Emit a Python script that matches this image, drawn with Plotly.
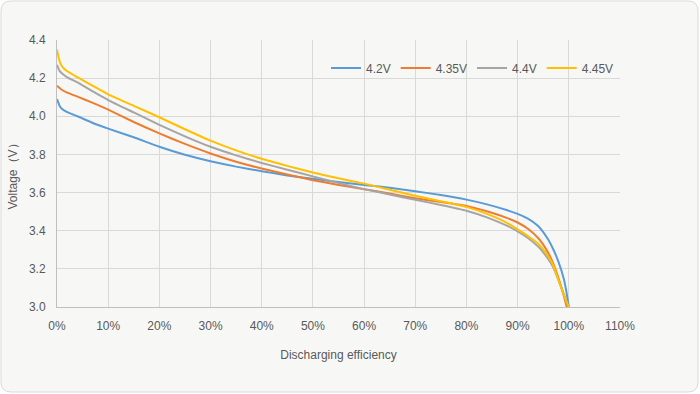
import plotly.graph_objects as go

# Discharging efficiency (%)
x_42 = [0, 0.5, 1, 2, 4, 7, 10, 15, 20, 25, 30, 35, 40, 45, 50, 55, 60, 65, 70, 75, 80, 84, 88, 90, 92, 94, 95, 96, 97, 98, 99, 99.5, 100]
v_42 = [4.09, 4.055, 4.038, 4.022, 4.00, 3.965, 3.935, 3.89, 3.84, 3.798, 3.764, 3.736, 3.712, 3.69, 3.672, 3.655, 3.64, 3.625, 3.607, 3.587, 3.563, 3.538, 3.507, 3.488, 3.463, 3.425, 3.393, 3.352, 3.30, 3.235, 3.15, 3.085, 3.0]

x_435 = [0, 0.5, 1, 2, 4, 7, 10, 15, 20, 25, 30, 35, 40, 45, 50, 55, 60, 65, 70, 75, 80, 84, 88, 90, 92, 94, 95, 96, 97, 98, 99, 99.6]
v_435 = [4.16, 4.148, 4.138, 4.124, 4.103, 4.07, 4.035, 3.97, 3.91, 3.855, 3.805, 3.762, 3.726, 3.695, 3.665, 3.64, 3.618, 3.595, 3.57, 3.55, 3.53, 3.502, 3.466, 3.443, 3.41, 3.362, 3.327, 3.283, 3.225, 3.15, 3.06, 3.0]

x_44 = [0, 0.5, 1, 2, 4, 7, 10, 15, 20, 25, 30, 35, 40, 45, 50, 55, 60, 65, 70, 75, 80, 84, 88, 90, 92, 94, 95, 96, 97, 98, 99, 99.9]
v_44 = [4.27, 4.238, 4.224, 4.204, 4.178, 4.13, 4.085, 4.02, 3.955, 3.895, 3.84, 3.795, 3.755, 3.72, 3.685, 3.65, 3.618, 3.59, 3.562, 3.535, 3.505, 3.47, 3.425, 3.397, 3.362, 3.317, 3.287, 3.25, 3.205, 3.14, 3.07, 3.0]

x_445 = [0, 0.3, 0.7, 1.3, 2, 4, 7, 10, 15, 20, 25, 30, 35, 40, 45, 50, 55, 60, 65, 70, 75, 80, 84, 88, 90, 92, 94, 95, 96, 97, 98, 99, 100]
v_445 = [4.35, 4.31, 4.275, 4.252, 4.236, 4.205, 4.16, 4.115, 4.055, 3.995, 3.932, 3.872, 3.821, 3.777, 3.74, 3.705, 3.675, 3.647, 3.615, 3.583, 3.555, 3.525, 3.488, 3.44, 3.407, 3.372, 3.332, 3.302, 3.265, 3.215, 3.14, 3.065, 3.0]

series_names = ["4.2V", "4.35V", "4.4V", "4.45V"]
colors = ["#5b9bd5", "#ed7d31", "#a5a5a5", "#ffc000"]

fig = go.Figure()
for name, xs, vs, c in zip(series_names, [x_42, x_435, x_44, x_445], [v_42, v_435, v_44, v_445], colors):
    fig.add_trace(go.Scatter(x=xs, y=vs, mode="lines", name=name,
                             line=dict(color=c, width=2, shape="spline", smoothing=0.4)))

W, H = 700, 394
L, R, T, B = 57, 80, 40, 87
pw, ph = W - L - R, H - T - B

def px(x):
    return (x - L) / pw

def py(y):
    return 1 - (y - T) / ph

# rounded frame path in paper coords
x0, y0, x1, y1, r = 1, 1, 698, 392, 10
path = (f"M {px(x0 + r)} {py(y0)} L {px(x1 - r)} {py(y0)} Q {px(x1)} {py(y0)} {px(x1)} {py(y0 + r)} "
        f"L {px(x1)} {py(y1 - r)} Q {px(x1)} {py(y1)} {px(x1 - r)} {py(y1)} "
        f"L {px(x0 + r)} {py(y1)} Q {px(x0)} {py(y1)} {px(x0)} {py(y1 - r)} "
        f"L {px(x0)} {py(y0 + r)} Q {px(x0)} {py(y0)} {px(x0 + r)} {py(y0)} Z")

fig.add_shape(type="path", path=path, xref="paper", yref="paper", layer="below",
              fillcolor="#f7f8f6", line=dict(color="#d9d9d9", width=1))

font_family = "Liberation Sans, Arial, sans-serif"
fig.update_layout(
    width=W, height=H,
    margin=dict(l=L, r=R, t=T, b=B),
    paper_bgcolor="white",
    plot_bgcolor="rgba(0,0,0,0)",
    font=dict(family=font_family, size=12, color="#595959"),
    showlegend=True,
    legend=dict(orientation="h", x=px(326), xanchor="left", y=py(68), yanchor="middle",
                bgcolor="rgba(0,0,0,0)", font=dict(size=12, color="#595959"),
                tracegroupgap=0, itemclick=False),
    xaxis=dict(range=[0, 110], dtick=10, tick0=0, ticksuffix="%",
               showgrid=True, gridcolor="#d9d9d9", gridwidth=1,
               showline=True, linecolor="#bfbfbf", linewidth=1,
               zeroline=False, ticks="", ticklabelstandoff=8,
               tickfont=dict(size=12, color="#595959"),
               title=dict(text="Discharging efficiency", font=dict(size=12, color="#595959"), standoff=18)),
    yaxis=dict(range=[3.0, 4.4], dtick=0.2, tick0=3.0, tickformat=".1f",
               showgrid=True, gridcolor="#d9d9d9", gridwidth=1,
               showline=True, linecolor="#bfbfbf", linewidth=1,
               zeroline=False, ticks="", ticklabelstandoff=8,
               tickfont=dict(size=12, color="#595959"),
               title=dict(text="Voltage（V）", font=dict(size=12, color="#595959"), standoff=8)),
)

fig.write_html("out.html", config={"displayModeBar": False},
               post_script="document.body.style.margin='0';")
